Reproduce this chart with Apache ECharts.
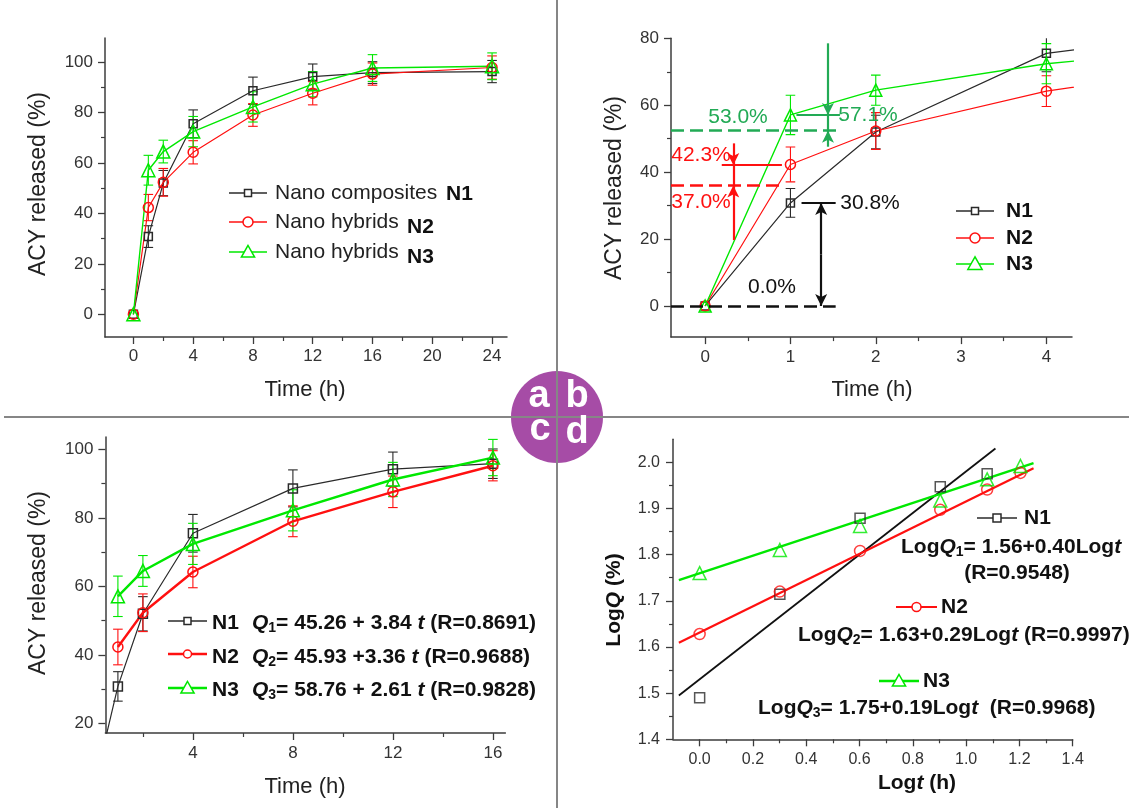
<!DOCTYPE html>
<html>
<head>
<meta charset="utf-8">
<title>ACY release</title>
<script src="https://cdn.jsdelivr.net/npm/echarts@6/dist/echarts.min.js"></script>
<style>
html, body { margin: 0; padding: 0; background: #fff; }
#main { width: 1129px; height: 808px; }
</style>
</head>
<body>
<div id="main"></div>
<script>
// release data, time in h, released in %
var time = [0, 1, 2, 4, 8, 12, 16, 24];
var n1 = [0, 30.8, 52.0, 75.5, 88.6, 94.2, 95.8, 96.2];
var n2 = [0, 42.3, 52.3, 64.2, 79.0, 87.6, 95.2, 97.8];
var n3 = [0, 57.1, 64.5, 72.4, 82.2, 91.2, 97.6, 98.3];
var n1Err = [0, 4.3, 5.0, 5.5, 5.4, 5.0, 4.3, 4.4];
var n2Err = [0, 5.2, 5.5, 4.6, 4.5, 4.6, 4.4, 4.6];
var n3Err = [0, 5.9, 4.5, 6.0, 6.0, 5.0, 5.3, 5.3];

// log-log (panel d)
var logt = [0, 0.301, 0.602, 0.903, 1.079, 1.204];
var logQ1 = [1.490, 1.714, 1.879, 1.947, 1.975];
var logQ2 = [1.628, 1.720, 1.808, 1.897, 1.941, 1.977];
var logQ3 = [1.760, 1.810, 1.862, 1.917, 1.963, 1.992];
var fit1X = [-0.078, 1.11], fit1Y = [1.495, 2.03];
var fit23X = [-0.078, 1.253];
var fit2Y = [1.609, 1.987];
var fit3Y = [1.745, 1.998];

// panel b guide marks (black, red, green)
var guideY = [0, 36.0, 52.4];
var guideEnd = [1.53, 0.92, 1.58];
var markY = [30.8, 42.1, 57.1];
var markFrom = [1.13, 0.195, 1.07];
var markTo = [1.53, 0.90, 1.58];
var arrowX = [1.36, 0.33, 1.44];
var arrowTop = [30.8, 48.6, 78.5];
var arrowBottom = [0, 19.7, 47.6];

// tick labels
var aTicksX = [0, 4, 8, 12, 16, 20, 24], aMinorX = [2, 6, 10, 14, 18, 22];
var aTicksY = [0, 20, 40, 60, 80, 100], aMinorY = [10, 30, 50, 70, 90];
var bTicksX = [0, 1, 2, 3, 4], bMinorX = [0.5, 1.5, 2.5, 3.5];
var bTicksY = [0, 20, 40, 60, 80], bMinorY = [10, 30, 50, 70];
var cTicksX = [4, 8, 12, 16], cMinorX = [2, 6, 10, 14];
var cTicksY = [20, 40, 60, 80, 100], cMinorY = [30, 50, 70, 90];
var dTicksX = [0, 0.2, 0.4, 0.6, 0.8, 1.0, 1.2, 1.4], dMinorX = [0.1, 0.3, 0.5, 0.7, 0.9, 1.1, 1.3];
var dTicksY = [1.4, 1.5, 1.6, 1.7, 1.8, 1.9, 2.0], dMinorY = [1.45, 1.55, 1.65, 1.75, 1.85, 1.95];

var F = "'Liberation Sans', Arial, Helvetica, sans-serif";
var BLACK = '#2a2a2a', RED = '#ff1010', GREEN = '#00e800', DGREEN = '#22aa55';
var AX = '#3c3c3c';

function majorAxis(g, pos, min, max, ticks, fs, margin, digits) {
  return {
    type: 'value', gridIndex: g, position: pos, min: min, max: max,
    axisLine: { show: true, onZero: false, lineStyle: { color: AX, width: 1.5 } },
    axisTick: { show: true, length: 7, customValues: ticks, lineStyle: { color: AX, width: 1.3 } },
    axisLabel: {
      show: true, customValues: ticks, margin: margin, fontSize: fs, fontFamily: F, color: '#333',
      formatter: function (v) { return digits ? Number(v).toFixed(digits) : String(Math.round(v)); }
    },
    splitLine: { show: false }
  };
}
function minorAxis(g, pos, min, max, minors) {
  return {
    type: 'value', gridIndex: g, position: pos, min: min, max: max,
    axisLine: { show: false, onZero: false },
    axisTick: { show: true, length: 4, customValues: minors, lineStyle: { color: AX, width: 1.2 } },
    axisLabel: { show: false },
    splitLine: { show: false }
  };
}

function pts(xs, ys) {
  var out = [];
  for (var i = 0; i < ys.length; i++) out.push([xs[i], ys[i]]);
  return out;
}

function lineSeries(g, xs, ys, color, symbol, size, width) {
  return {
    type: 'line', xAxisIndex: 2 * g, yAxisIndex: 2 * g, data: pts(xs, ys),
    symbol: symbol, symbolSize: size, showSymbol: true, clip: true, z: 3,
    lineStyle: { color: color, width: width },
    itemStyle: { color: 'rgba(255,255,255,0)', borderColor: color, borderWidth: 1.5 },
    silent: true, animation: false
  };
}

function scatterSeries(g, xs, ys, color, symbol, size) {
  return {
    type: 'scatter', xAxisIndex: 2 * g, yAxisIndex: 2 * g, data: pts(xs, ys),
    symbol: symbol, symbolSize: size, clip: true, z: 4,
    itemStyle: { color: 'rgba(255,255,255,0)', borderColor: color, borderWidth: 1.5 },
    silent: true, animation: false
  };
}

function errSeries(g, xs, ys, es, color) {
  var data = [];
  for (var i = 0; i < ys.length; i++) {
    if (es[i] > 0) data.push([xs[i], ys[i] - es[i], ys[i] + es[i]]);
  }
  return {
    type: 'custom', xAxisIndex: 2 * g, yAxisIndex: 2 * g, data: data, clip: true, z: 2,
    silent: true, animation: false,
    renderItem: function (params, api) {
      var lo = api.coord([api.value(0), api.value(1)]);
      var hi = api.coord([api.value(0), api.value(2)]);
      var w = 4.8;
      var st = { stroke: color, lineWidth: 1.1 };
      return {
        type: 'group', children: [
          { type: 'line', shape: { x1: lo[0], y1: lo[1], x2: hi[0], y2: hi[1] }, style: st },
          { type: 'line', shape: { x1: lo[0] - w, y1: lo[1], x2: lo[0] + w, y2: lo[1] }, style: st },
          { type: 'line', shape: { x1: hi[0] - w, y1: hi[1], x2: hi[0] + w, y2: hi[1] }, style: st }
        ]
      };
    }
  };
}

// guide lines for panel b (index k: 0 black, 1 red, 2 green)
function guides(k, color) {
  var dash = { type: [13, 6], width: 2.6, color: color };
  var solid = { type: 'solid', width: 2.2, color: color };
  var d = [];
  d.push([{ coord: [-0.4, guideY[k]], symbol: 'none', lineStyle: dash }, { coord: [guideEnd[k], guideY[k]], symbol: 'none' }]);
  d.push([{ coord: [markFrom[k], markY[k]], symbol: 'none', lineStyle: solid }, { coord: [markTo[k], markY[k]], symbol: 'none' }]);
  if (k === 0) {
    var mid = (arrowTop[0] + arrowBottom[0]) / 2;
    d.push([{ coord: [arrowX[0], mid], symbol: 'none', lineStyle: solid }, { coord: [arrowX[0], arrowTop[0]], symbol: 'arrow' }]);
    d.push([{ coord: [arrowX[0], mid], symbol: 'none', lineStyle: solid }, { coord: [arrowX[0], arrowBottom[0]], symbol: 'arrow' }]);
  } else {
    d.push([{ coord: [arrowX[k], arrowTop[k]], symbol: 'none', lineStyle: solid }, { coord: [arrowX[k], markY[k]], symbol: 'arrow' }]);
    d.push([{ coord: [arrowX[k], markY[k]], symbol: 'none', lineStyle: solid }, { coord: [arrowX[k], guideY[k]], symbol: 'none' }]);
    d.push([{ coord: [arrowX[k], arrowBottom[k]], symbol: 'none', lineStyle: solid }, { coord: [arrowX[k], guideY[k]], symbol: 'arrow' }]);
  }
  return {
    type: 'line', xAxisIndex: 2, yAxisIndex: 2, data: [], silent: true, animation: false,
    markLine: { silent: true, animation: false, symbolSize: [9, 12], label: { show: false }, data: d }
  };
}

var series = [
  // a
  errSeries(0, time, n1, n1Err, BLACK),
  errSeries(0, time, n2, n2Err, RED),
  errSeries(0, time, n3, n3Err, GREEN),
  lineSeries(0, time, n1, BLACK, 'rect', 8, 1.2),
  lineSeries(0, time, n2, RED, 'circle', 10, 1.2),
  lineSeries(0, time, n3, GREEN, 'triangle', 13, 1.4),
  // b
  errSeries(1, time, n1, n1Err, BLACK),
  errSeries(1, time, n2, n2Err, RED),
  errSeries(1, time, n3, n3Err, GREEN),
  lineSeries(1, time, n1, BLACK, 'rect', 8, 1.2),
  lineSeries(1, time, n2, RED, 'circle', 10, 1.2),
  lineSeries(1, time, n3, GREEN, 'triangle', 12, 1.4),
  guides(0, '#111111'),
  guides(1, RED),
  guides(2, DGREEN),
  // c
  errSeries(2, time.slice(1, 7), n1.slice(1, 7), n1Err.slice(1, 7), BLACK),
  errSeries(2, time.slice(1, 7), n2.slice(1, 7), n2Err.slice(1, 7), RED),
  errSeries(2, time.slice(1, 7), n3.slice(1, 7), n3Err.slice(1, 7), GREEN),
  lineSeries(2, time.slice(0, 7), n1.slice(0, 7), BLACK, 'rect', 9, 1.2),
  lineSeries(2, time.slice(1, 7), n2.slice(1, 7), RED, 'circle', 10, 2.4),
  lineSeries(2, time.slice(1, 7), n3.slice(1, 7), GREEN, 'triangle', 13, 2.4),
  // d
  lineSeries(3, fit1X, fit1Y, '#111111', 'none', 0, 1.8),
  lineSeries(3, fit23X, fit2Y, RED, 'none', 0, 2.2),
  lineSeries(3, fit23X, fit3Y, GREEN, 'none', 0, 2.4),
  scatterSeries(3, logt, logQ1, BLACK, 'rect', 10),
  scatterSeries(3, logt, logQ2, RED, 'circle', 11),
  scatterSeries(3, logt, logQ3, GREEN, 'triangle', 13)
];

// graphic helpers
function txt(x, y, text, style, extra) {
  var s = { text: text, fill: '#222', fontSize: 21, fontFamily: F, align: 'left', verticalAlign: 'middle' };
  for (var k in style) s[k] = style[k];
  var el = { type: 'text', x: x, y: y, z: 100, silent: true, style: s };
  if (extra) for (var e in extra) el[e] = extra[e];
  return el;
}
function vtxt(x, y, text, style) {
  var s = { align: 'center' };
  for (var k in style) s[k] = style[k];
  return txt(x, y, text, s, { rotation: Math.PI / 2 });
}
function legendMark(x1, x2, y, color, shape, size, lw) {
  var cx = (x1 + x2) / 2;
  var st = { fill: '#fff', stroke: color, lineWidth: 1.5 };
  var sym;
  if (shape === 'rect') sym = { type: 'rect', shape: { x: cx - size / 2, y: y - size / 2, width: size, height: size }, style: st };
  else if (shape === 'circle') sym = { type: 'circle', shape: { cx: cx, cy: y, r: size / 2 }, style: st };
  else sym = { type: 'polygon', shape: { points: [[cx, y - size * 0.55], [cx - size * 0.55, y + size * 0.42], [cx + size * 0.55, y + size * 0.42]] }, style: st };
  sym.z = 101; sym.silent = true;
  return [
    { type: 'line', z: 100, silent: true, shape: { x1: x1, y1: y, x2: x2, y2: y }, style: { stroke: color, lineWidth: lw } },
    sym
  ];
}

var rich = {
  b: { fontSize: 21, fontWeight: 'bold', fontFamily: F, fill: '#111', lineHeight: 24 },
  i: { fontSize: 21, fontWeight: 'bold', fontStyle: 'italic', fontFamily: F, fill: '#111', lineHeight: 24 },
  s: { fontSize: 14, fontWeight: 'bold', fontFamily: F, fill: '#111', lineHeight: 10, verticalAlign: 'bottom' }
};
var bold = { fontWeight: 'bold', fill: '#111' };
var badge = { fill: '#fff', fontSize: 38, fontWeight: 'bold', align: 'center' };

var graphic = [
  // centre badge and dividers
  { type: 'circle', z: 50, silent: true, shape: { cx: 557, cy: 417, r: 46 }, style: { fill: '#a64ca6' } },
  { type: 'line', z: 60, silent: true, shape: { x1: 4, y1: 417, x2: 1129, y2: 417 }, style: { stroke: '#868686', lineWidth: 2 } },
  { type: 'line', z: 60, silent: true, shape: { x1: 557, y1: 0, x2: 557, y2: 808 }, style: { stroke: '#868686', lineWidth: 2 } },
  txt(539, 397, 'a', badge),
  txt(577, 397, 'b', badge),
  txt(540, 430, 'c', badge),
  txt(577, 433, 'd', badge),

  // axis titles
  vtxt(39, 184, 'ACY released (%)', { fontSize: 23 }),
  txt(305, 390, 'Time (h)', { fontSize: 22, align: 'center' }),
  vtxt(615, 188, 'ACY released (%)', { fontSize: 23 }),
  txt(872, 390, 'Time (h)', { fontSize: 22, align: 'center' }),
  vtxt(39, 583, 'ACY released (%)', { fontSize: 23 }),
  txt(305, 787, 'Time (h)', { fontSize: 22, align: 'center' }),
  vtxt(614, 600, '{b|Log}{i|Q}{b| (%)}', { rich: rich }),
  txt(917, 783, '{b|Log}{i|t}{b| (h)}', { rich: rich, align: 'center' }),

  // panel a legend
  txt(275, 193, 'Nano composites', {}),
  txt(446, 194, 'N1', bold),
  txt(275, 222, 'Nano hybrids', {}),
  txt(407, 227, 'N2', bold),
  txt(275, 252, 'Nano hybrids', {}),
  txt(407, 257, 'N3', bold),

  // panel b legend and guide labels
  txt(1006, 211, 'N1', bold),
  txt(1006, 238, 'N2', bold),
  txt(1006, 264, 'N3', bold),
  txt(738, 117, '53.0%', { fill: DGREEN, align: 'center' }),
  txt(868, 115, '57.1%', { fill: DGREEN, align: 'center' }),
  txt(701, 155, '42.3%', { fill: RED, align: 'center' }),
  txt(701, 202, '37.0%', { fill: RED, align: 'center' }),
  txt(870, 203, '30.8%', { fill: '#111', align: 'center' }),
  txt(772, 287, '0.0%', { fill: '#111', align: 'center' }),

  // panel c legend
  txt(212, 623, 'N1', bold),
  txt(252, 623, '{i|Q}{s|1}{b|= 45.26 + 3.84 }{i|t}{b| (R=0.8691)}', { rich: rich }),
  txt(212, 657, 'N2', bold),
  txt(252, 657, '{i|Q}{s|2}{b|= 45.93 +3.36 }{i|t}{b| (R=0.9688)}', { rich: rich }),
  txt(212, 690, 'N3', bold),
  txt(252, 690, '{i|Q}{s|3}{b|= 58.76 + 2.61 }{i|t}{b| (R=0.9828)}', { rich: rich }),

  // panel d legend
  txt(1024, 518, 'N1', bold),
  txt(901, 547, '{b|Log}{i|Q}{s|1}{b|= 1.56+0.40Log}{i|t}', { rich: rich }),
  txt(1017, 573, '(R=0.9548)', { fontWeight: 'bold', fill: '#111', align: 'center' }),
  txt(941, 607, 'N2', bold),
  txt(798, 635, '{b|Log}{i|Q}{s|2}{b|= 1.63+0.29Log}{i|t}{b| (R=0.9997)}', { rich: rich }),
  txt(923, 681, 'N3', bold),
  txt(758, 708, '{b|Log}{i|Q}{s|3}{b|= 1.75+0.19Log}{i|t}{b|  (R=0.9968)}', { rich: rich })
];

graphic = graphic
  .concat(legendMark(229, 267, 193, BLACK, 'rect', 7, 1.3))
  .concat(legendMark(229, 267, 222, RED, 'circle', 10, 1.3))
  .concat(legendMark(229, 267, 252, GREEN, 'triangle', 12, 1.4))
  .concat(legendMark(956, 994, 211, BLACK, 'rect', 7, 1.3))
  .concat(legendMark(956, 994, 238, RED, 'circle', 10, 1.3))
  .concat(legendMark(956, 994, 264, GREEN, 'triangle', 13, 1.4))
  .concat(legendMark(168, 207, 621, BLACK, 'rect', 7, 1.3))
  .concat(legendMark(168, 207, 654, RED, 'circle', 8, 2.4))
  .concat(legendMark(168, 207, 688, GREEN, 'triangle', 12, 2.4))
  .concat(legendMark(977, 1017, 518, BLACK, 'rect', 8, 1.3))
  .concat(legendMark(896, 937, 607, RED, 'circle', 9, 2.2))
  .concat(legendMark(879, 919, 681, GREEN, 'triangle', 12, 2.4));

var chart = echarts.init(document.getElementById('main'), null, { renderer: 'canvas', width: 1129, height: 808 });

chart.setOption({
  animation: false,
  backgroundColor: '#ffffff',
  grid: [
    { left: 105, top: 38, width: 402, height: 299 },
    { left: 671, top: 38.3, width: 401, height: 298.8 },
    { left: 105.4, top: 437, width: 400, height: 296 },
    { left: 673, top: 439.2, width: 399.7, height: 300.1 }
  ],
  xAxis: [
    majorAxis(0, 'bottom', -1.9, 25, aTicksX, 17, 11, 0),
    minorAxis(0, 'bottom', -1.9, 25, aMinorX),
    majorAxis(1, 'bottom', -0.4, 4.3, bTicksX, 17, 12, 0),
    minorAxis(1, 'bottom', -0.4, 4.3, bMinorX),
    majorAxis(2, 'bottom', 0.5, 16.5, cTicksX, 17, 12, 0),
    minorAxis(2, 'bottom', 0.5, 16.5, cMinorX),
    majorAxis(3, 'bottom', -0.1, 1.4, dTicksX, 16, 12, 1),
    minorAxis(3, 'bottom', -0.1, 1.4, dMinorX)
  ],
  yAxis: [
    majorAxis(0, 'left', -9, 109.5, aTicksY, 17, 12, 0),
    minorAxis(0, 'left', -9, 109.5, aMinorY),
    majorAxis(1, 'left', -9.3, 80, bTicksY, 17, 12, 0),
    minorAxis(1, 'left', -9.3, 80, bMinorY),
    majorAxis(2, 'left', 17.2, 103.6, cTicksY, 17, 12, 0),
    minorAxis(2, 'left', 17.2, 103.6, cMinorY),
    majorAxis(3, 'left', 1.4, 2.05, dTicksY, 16, 13, 1),
    minorAxis(3, 'left', 1.4, 2.05, dMinorY)
  ],
  series: series,
  graphic: graphic
});
</script>
</body>
</html>
